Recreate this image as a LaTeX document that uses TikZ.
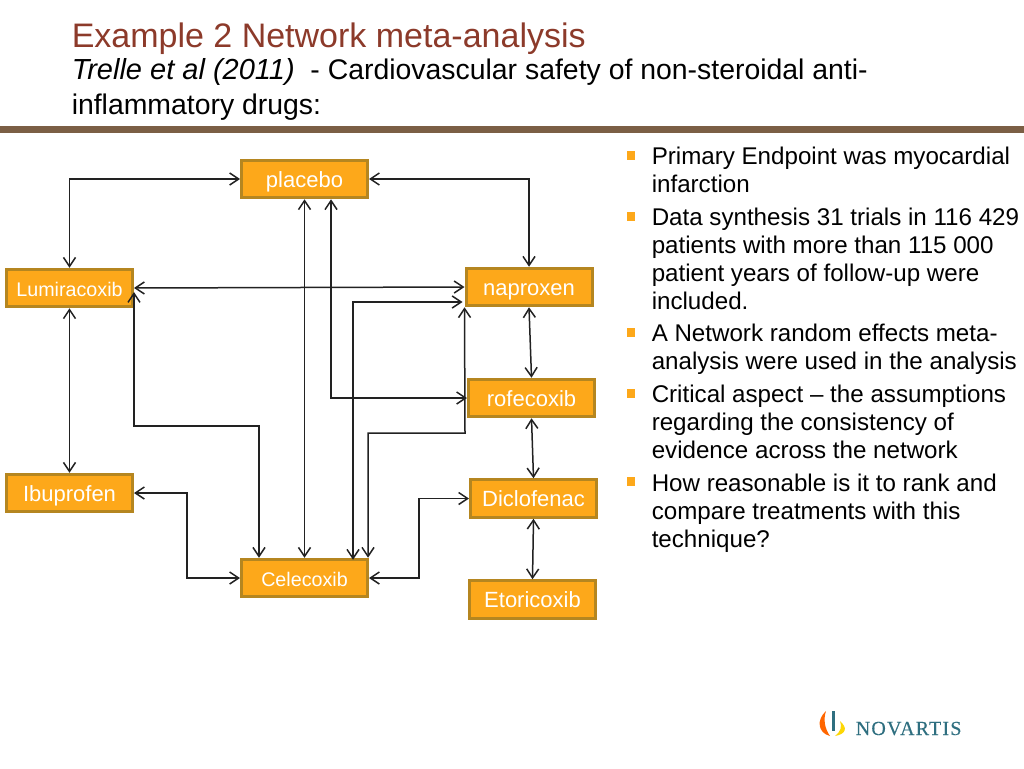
\documentclass[tikz,border=0pt]{standalone}
\usepackage{fontspec}
\setmainfont{Liberation Sans}
\newfontfamily\logofont[LetterSpace=6,FakeBold=0.2]{Liberation Serif}
\usetikzlibrary{arrows.meta, positioning}
\definecolor{titlered}{HTML}{8C3A2A}
\definecolor{rulebrown}{HTML}{7B5F45}
\definecolor{boxfill}{HTML}{FDA81A}
\definecolor{boxline}{HTML}{B58620}
\definecolor{logoteal}{HTML}{2F6F80}
\definecolor{linkgrey}{HTML}{222222}

\begin{document}
\begin{tikzpicture}[x=1pt,y=-1pt,>={Straight Barb[length=9pt,width=12pt]},line width=1.5pt]
  \tikzstyle{drug}=[draw=boxline,fill=boxfill,line width=3pt,text=white,
    minimum width=126pt,minimum height=37.5pt,inner sep=0pt,text height=16pt,text depth=0pt,
    font=\fontsize{22}{24}\selectfont]
  \tikzstyle{smalldrug}=[drug,font=\fontsize{19.7}{22}\selectfont]
  \tikzstyle{link}=[<->,draw=linkgrey]
  \tikzstyle{bullet}=[fill=boxfill,minimum width=8pt,minimum height=9pt,inner sep=0pt]
  \tikzstyle{point}=[anchor=north west,align=left,inner sep=0pt,
    font=\fontsize{24.15}{28}\selectfont]
  \tikzstyle{head}=[anchor=base west,inner sep=0pt]
  \useasboundingbox (0,0) rectangle (1024,768);

  \node[head,text=titlered,font=\fontsize{34}{36}\selectfont] (title) at (71,47.5) {Example 2 Network meta-analysis};
  \node[head,font=\fontsize{28.4}{30}\selectfont] (sub_a) at (71,79.5) {\fontsize{29}{30}\selectfont\textit{Trelle et al (2011)}\fontsize{28.4}{30}\selectfont\ \ - Cardiovascular safety of non-steroidal anti-};
  \node[head,font=\fontsize{28.4}{30}\selectfont] (sub_b) at (71,114) {inflammatory drugs:};
  \fill[rulebrown] (0,126) rectangle (1024,133);

  \node[drug]      (placebo)    at (304.5,179) {placebo};
  \node[smalldrug] (lumiracoxib) at (69.5,288) {Lumiracoxib};
  \node[drug]      (naproxen)   at (529,287)   {naproxen};
  \node[drug]      (rofecoxib)  at (531.5,398) {rofecoxib};
  \node[drug]      (ibuprofen)  at (69.5,493)  {Ibuprofen};
  \node[drug]      (diclofenac) at (533.5,498.5) {Diclofenac};
  \node[smalldrug] (celecoxib)  at (304.5,578) {Celecoxib};
  \node[drug]      (etoricoxib) at (532.5,599.5) {Etoricoxib};

  \coordinate (turn_a) at (134,426);
  \coordinate (turn_b) at (465,433);
  \coordinate (turn_c) at (187,493);
  \coordinate (turn_d) at (419,578);

  \draw[link] (placebo.west) -| (lumiracoxib.north);
  \draw[link] (placebo.east) -| (naproxen.north);
  \draw[link] (lumiracoxib.east) -- (naproxen.west);
  \draw[link] (lumiracoxib.south) -- (ibuprofen.north);
  \draw[link] (lumiracoxib.east |- 0,292) -- (turn_a) -| ([xshift=-45.5pt]celecoxib.north);
  \draw[link] (placebo.south) -- (celecoxib.north);
  \draw[link] ([xshift=26.5pt]placebo.south) |- (rofecoxib.west);
  \draw[link] ([yshift=-15pt,xshift=-2pt]naproxen.west) -| ([xshift=48.5pt,yshift=-2pt]celecoxib.north);
  \draw[link] (naproxen.south west) -- (turn_b) -| ([xshift=63.5pt]celecoxib.north);
  \draw[link] (ibuprofen.east) -- (turn_c) |- (celecoxib.west);
  \draw[link] (celecoxib.east) -- (turn_d) |- (diclofenac.west);
  \draw[link] (naproxen.south) -- (rofecoxib.north);
  \draw[link] (rofecoxib.south) -- (diclofenac.north);
  \draw[link] (diclofenac.south) -- (etoricoxib.north);

  \node[bullet] (mark_a) at (631,155) {};
  \node[bullet] (mark_b) at (631,216) {};
  \node[bullet] (mark_c) at (631,332) {};
  \node[bullet] (mark_d) at (631,393) {};
  \node[bullet] (mark_e) at (631,481) {};
  \node[point] (point_a) at (651,146) {Primary Endpoint was myocardial\\infarction};
  \node[point] (point_b) at (651,207) {Data synthesis 31 trials in 116 429\\patients with more than 115 000\\patient years of follow-up were\\included.};
  \node[point] (point_c) at (651,323) {A Network random effects meta-\\analysis were used in the analysis};
  \node[point] (point_d) at (651,384) {Critical aspect -- the assumptions\\regarding the consistency of\\evidence across the network};
  \node[point] (point_e) at (651,473) {How reasonable is it to rank and\\compare treatments with this\\technique?};

  % logo
  \fill[orange!80!red] (826,711) .. controls (816,720) and (818,733) .. (830,736) .. controls (825,729) and (823,720) .. (826,711);
  \fill[logoteal] (832,711) rectangle (835,731);
  \fill[yellow!75!orange] (840,721) .. controls (848,728) and (846,734) .. (835,736) .. controls (841,731) and (842,727) .. (840,721);
  \node[anchor=base west,inner sep=0pt,text=logoteal,font=\logofont\fontsize{20}{22}\selectfont] (logo) at (855,735) {NOVARTIS};
\end{tikzpicture}
\end{document}
